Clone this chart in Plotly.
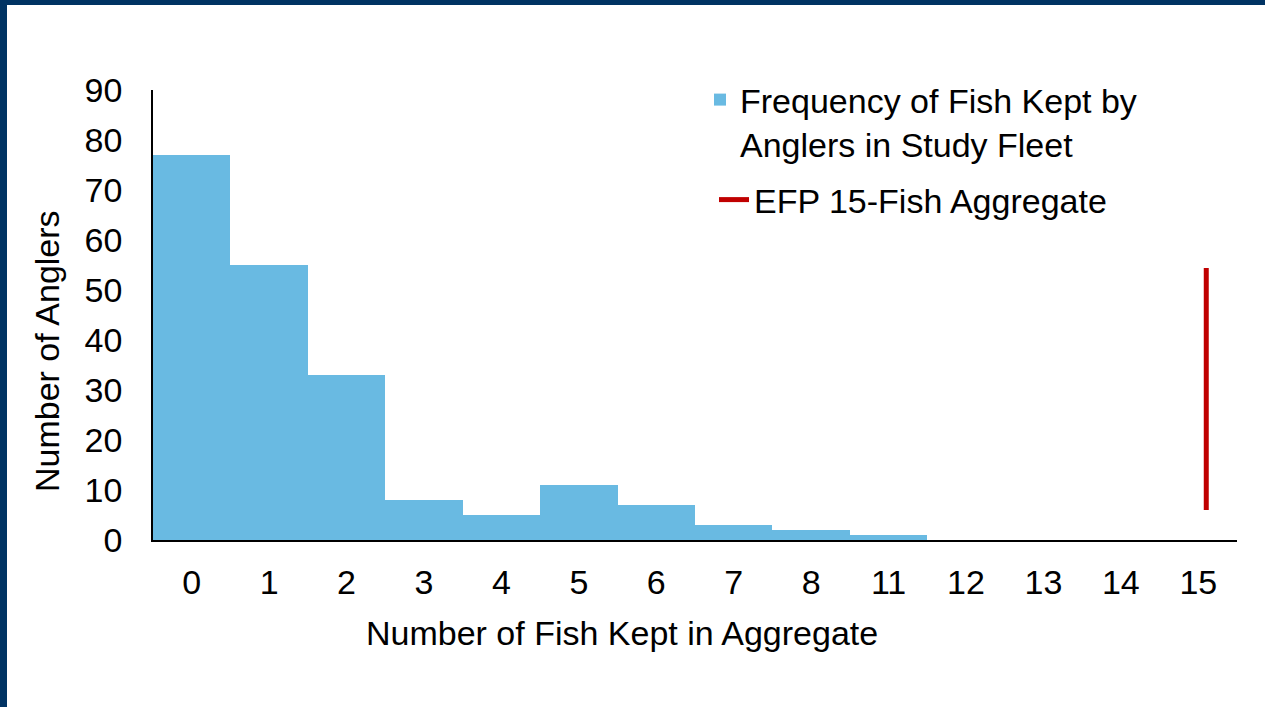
import plotly.graph_objects as go

categories = ["0", "1", "2", "3", "4", "5", "6", "7", "8", "11", "12", "13", "14", "15"]
anglers = [77, 55, 33, 8, 5, 11, 7, 3, 2, 1, 0, 0, 0, 0]
efp_x = ["15", "15"]
efp_y = [6, 54.4]
y_ticks = [0, 10, 20, 30, 40, 50, 60, 70, 80, 90]
x_title = "Number of Fish Kept in Aggregate"
y_title = "Number of Anglers"

FONT = "Arial, Liberation Sans, sans-serif"
NAVY = "#003363"
FS = 34

fig = go.Figure()
fig.add_trace(go.Bar(
    x=categories, y=anglers,
    name="Frequency of Fish Kept by<br>Anglers in Study Fleet",
    marker=dict(color="#69BAE2", line=dict(width=0)),
    legend="legend",
))
fig.add_trace(go.Scatter(
    x=efp_x, y=efp_y, mode="lines",
    name="EFP 15-Fish Aggregate",
    line=dict(color="#C00000", width=5),
    xaxis="x2",
    legend="legend2",
))

W, H = 1265, 707
L, R, T, B = 153, 1237, 90, 540
pw, ph = R - L, B - T

def px(x):
    return (x - L) / pw

def py(y):
    return (B - y) / ph

shapes = [
    dict(type="rect", xref="paper", yref="paper", x0=px(0), x1=px(W), y0=py(5), y1=py(0),
         fillcolor=NAVY, line=dict(width=0), layer="above"),
    dict(type="rect", xref="paper", yref="paper", x0=px(0), x1=px(7), y0=py(H), y1=py(0),
         fillcolor=NAVY, line=dict(width=0), layer="above"),
]

annotations = [
    dict(text=x_title, xref="paper", yref="paper", x=px(622), y=py(633),
         xanchor="center", yanchor="middle", showarrow=False, font=dict(size=FS)),
    dict(text=y_title, xref="paper", yref="paper", x=px(47), y=py(351),
         xanchor="center", yanchor="middle", showarrow=False, textangle=-90,
         font=dict(size=FS)),
]

n = len(categories)
shift = 0.103

fig.update_layout(
    width=W, height=H,
    margin=dict(l=L, r=W - R, t=T, b=H - B, pad=0),
    paper_bgcolor="white", plot_bgcolor="white",
    font=dict(family=FONT, size=FS, color="black"),
    bargap=0,
    showlegend=True,
    legend=dict(x=px(700), y=py(71), xanchor="left", yanchor="top", valign="top",
                font=dict(size=FS), bgcolor="rgba(0,0,0,0)", borderwidth=0,
                tracegroupgap=0, itemwidth=30),
    legend2=dict(x=px(714), y=py(171), xanchor="left", yanchor="top",
                 font=dict(size=FS), bgcolor="rgba(0,0,0,0)", borderwidth=0,
                 tracegroupgap=0, itemwidth=30),
    shapes=shapes,
    annotations=annotations,
    xaxis=dict(
        type="category", categoryorder="array", categoryarray=categories,
        range=[-0.5, n - 0.5],
        showline=True, linecolor="black", linewidth=2,
        showgrid=False, zeroline=False, ticks="",
        ticklabelstandoff=11,
    ),
    xaxis2=dict(
        type="category", categoryorder="array", categoryarray=categories,
        overlaying="x", range=[-0.5 - shift, n - 0.5 - shift],
        visible=False, showgrid=False, zeroline=False,
    ),
    yaxis=dict(
        range=[0, 90], tickvals=y_ticks,
        showline=True, linecolor="black", linewidth=1.5,
        showgrid=False, zeroline=False, ticks="",
        ticklabelstandoff=22,
    ),
)

fig.write_html(
    "out.html",
    config={"displayModeBar": False},
    post_script="document.body.style.margin='0';document.body.style.overflow='hidden';",
)
